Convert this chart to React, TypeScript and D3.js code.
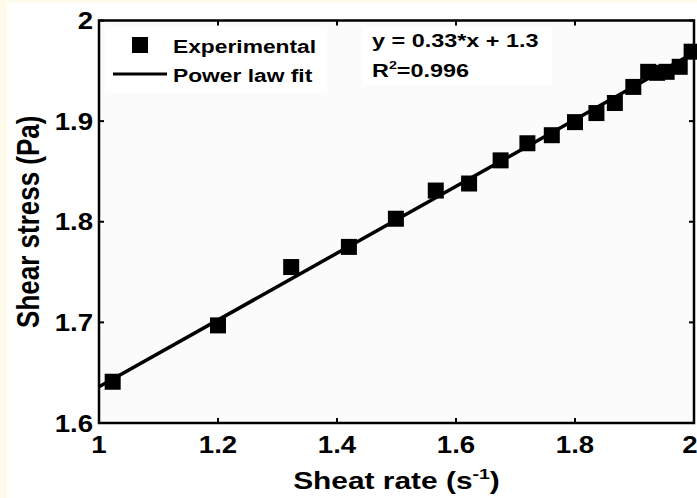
import React from "react";
import * as d3 from "d3";

const expX = [1.023, 1.2, 1.323, 1.42, 1.499, 1.566, 1.622, 1.675, 1.72, 1.761, 1.8, 1.836, 1.867, 1.898, 1.923, 1.938, 1.954, 1.976, 1.996];
const expY = [1.641, 1.697, 1.755, 1.775, 1.803, 1.831, 1.838, 1.861, 1.878, 1.886, 1.899, 1.908, 1.918, 1.934, 1.949, 1.948, 1.949, 1.954, 1.969];
const fitX = [1.0, 2.0];
const fitY = [1.636, 1.968];
const xTicks = [1, 1.2, 1.4, 1.6, 1.8, 2];
const yTicks = [1.6, 1.7, 1.8, 1.9, 2];
const xTickLabels = ["1", "1.2", "1.4", "1.6", "1.8", "2"];
const yTickLabels = ["1.6", "1.7", "1.8", "1.9", "2"];

const W = 697, H = 498;
const L = 99, R = 694, T = 20.5, B = 423;
const FONT = "'Liberation Sans', Arial, Helvetica, sans-serif";

function STxt({ x, y, sx = 1.2, size, anchor = "start", children }: any) {
  return (
    <text
      transform={`translate(${x},${y}) scale(${sx},1)`}
      fontFamily={FONT}
      fontWeight="bold"
      fontSize={size}
      textAnchor={anchor}
      fill="#000"
    >
      {children}
    </text>
  );
}

export default function App() {
  const x = d3.scaleLinear().domain([1, 2]).range([L, R]);
  const y = d3.scaleLinear().domain([1.6, 2]).range([B, T]);
  const line = d3.line<number>().x((d, i) => x(fitX[i])).y((d, i) => y(fitY[i]));
  const sq = 16;
  const tl = 5;
  return (
    <svg width={W} height={H} style={{ position: "absolute", left: 0, top: 0, display: "block" }}>
      <rect x={0} y={0} width={W} height={H} fill="#fffbea" />
      <rect x={7} y={3} width={W - 7} height={H - 3} fill="#ffffff" />
      <rect x={L} y={T} width={R - L} height={B - T} fill="#fbfbfb" />
      <rect x={105} y={27} width={222} height={66} fill="#ffffff" />
      <rect x={362} y={27} width={190} height={58} fill="#ffffff" />
      {/* fit line */}
      <path d={line(fitY) || ""} stroke="#000" strokeWidth={3.5} fill="none" />
      {/* data */}
      {expX.map((d, i) => (
        <rect key={i} x={x(d) - sq / 2} y={y(expY[i]) - sq / 2} width={sq} height={sq} fill="#000" />
      ))}
      {/* frame */}
      <rect x={L} y={T} width={R - L} height={B - T} fill="none" stroke="#000" strokeWidth={2.5} />
      {xTicks.map((t, i) => (
        <g key={"xt" + i}>
          <line x1={x(t)} x2={x(t)} y1={B} y2={B - tl} stroke="#000" strokeWidth={2} />
          <line x1={x(t)} x2={x(t)} y1={T} y2={T + tl} stroke="#000" strokeWidth={2} />
          <STxt x={i === xTicks.length - 1 ? Math.min(x(t), 690) : x(t)} y={453} size={23} anchor="middle">{xTickLabels[i]}</STxt>
        </g>
      ))}
      {yTicks.map((t, i) => (
        <g key={"yt" + i}>
          <line x1={L} x2={L + tl} y1={y(t)} y2={y(t)} stroke="#000" strokeWidth={2} />
          <line x1={R} x2={R - tl} y1={y(t)} y2={y(t)} stroke="#000" strokeWidth={2} />
          <STxt x={93} y={y(t) + 8.5} size={23} anchor="end">{yTickLabels[i]}</STxt>
        </g>
      ))}
      {/* axis titles */}
      <text
        transform={`translate(${(L + R) / 2},489) scale(1.3,1)`}
        fontFamily={FONT}
        fontWeight="bold"
        fontSize={23}
        textAnchor="middle"
      >
        Sheat rate (s<tspan fontSize={15} dy={-10}>-1</tspan><tspan dy={10}>)</tspan>
      </text>
      <text
        transform={`translate(39,${(T + B) / 2}) rotate(-90) scale(1,1.2)`}
        fontFamily={FONT}
        fontWeight="bold"
        fontSize={26}
        textAnchor="middle"
      >
        Shear stress (Pa)
      </text>
      {/* legend */}
      <rect x={132} y={37} width={16} height={16} fill="#000" />
      <STxt x={173} y={53} size={19}>Experimental</STxt>
      <line x1={113} x2={167} y1={74} y2={74} stroke="#000" strokeWidth={3} />
      <STxt x={173} y={82} size={19}>Power law fit</STxt>
      {/* equation */}
      <STxt x={372} y={47} size={18} sx={1.3}>y = 0.33*x + 1.3</STxt>
      <text
        transform={`translate(372,77) scale(1.3,1)`}
        fontFamily={FONT}
        fontWeight="bold"
        fontSize={18}
      >
        R<tspan fontSize={11} dy={-8}>2</tspan><tspan dy={8}>=0.996</tspan>
      </text>
    </svg>
  );
}
